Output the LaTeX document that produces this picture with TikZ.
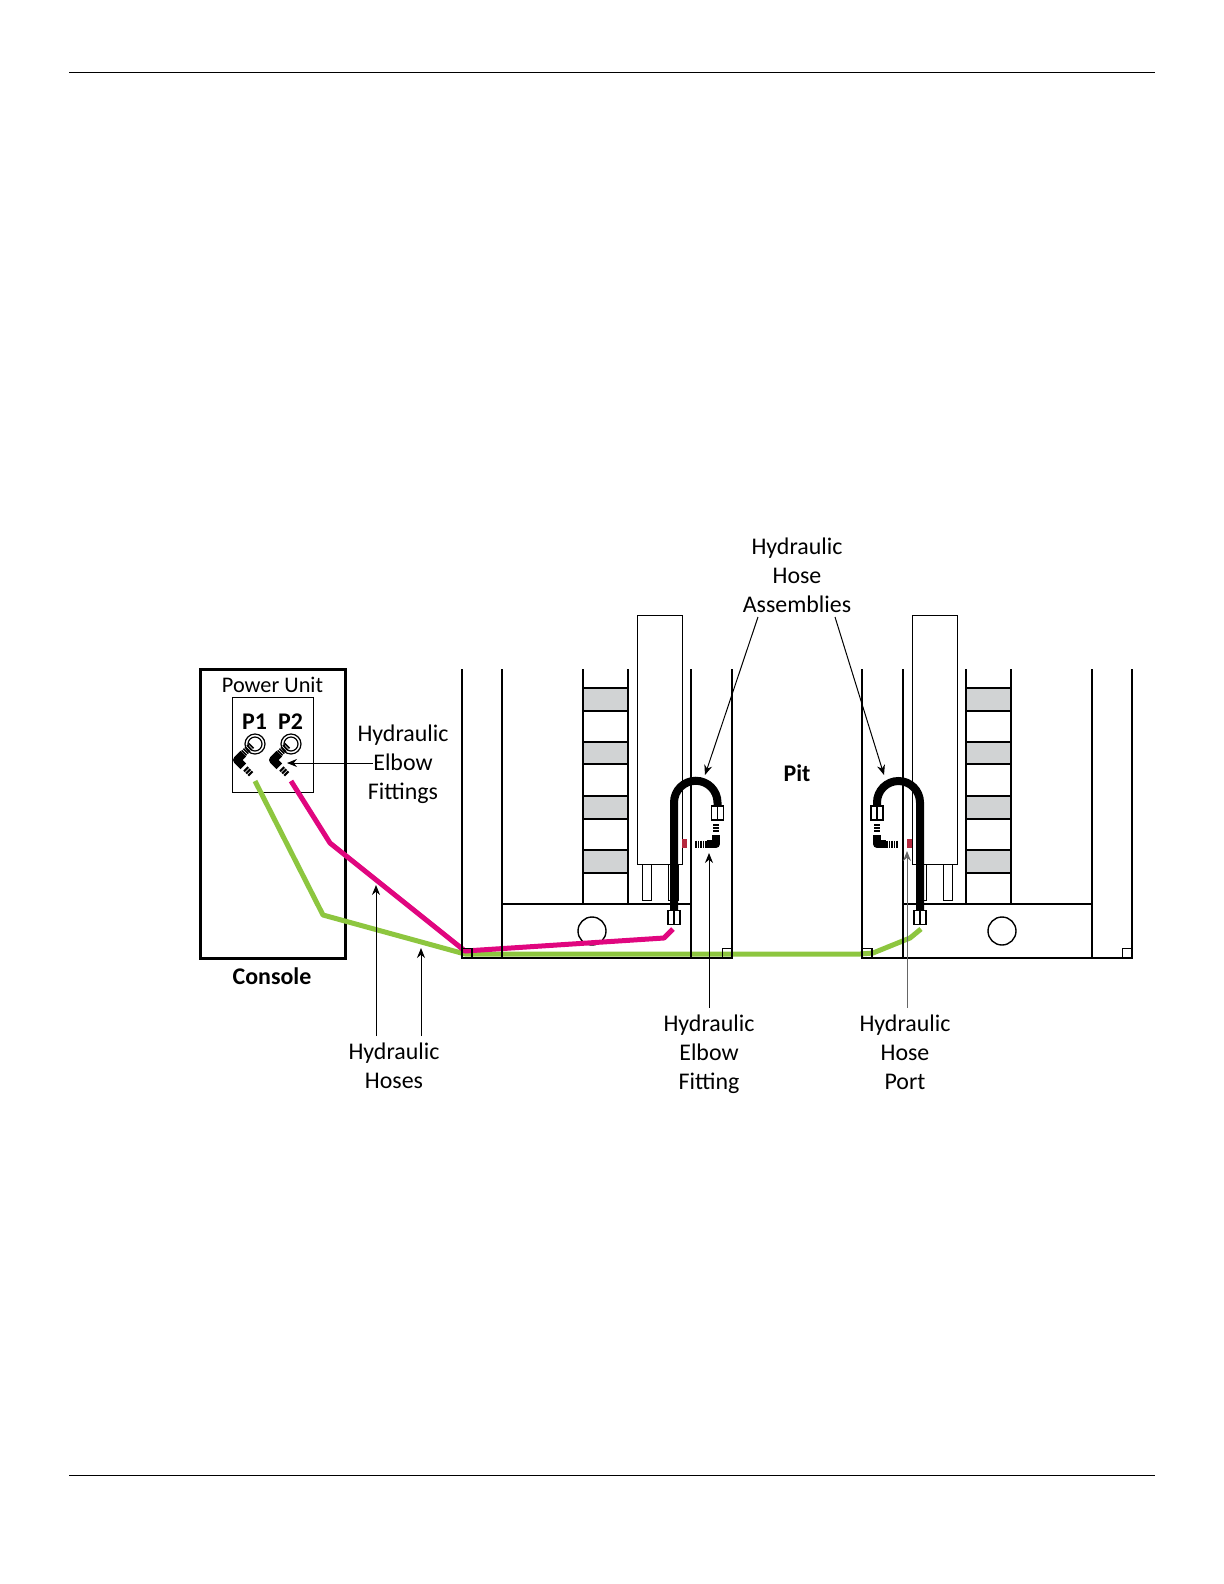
\documentclass[tikz,border=0pt]{standalone}
\usepackage{fontspec}
\setmainfont{Carlito}
\usepackage{xcolor}
\usetikzlibrary{arrows.meta}
\definecolor{mGreen}{HTML}{8DC63F}
\definecolor{mPink}{HTML}{E0067F}
\definecolor{mGrey}{HTML}{D1D3D4}
\definecolor{mRed}{HTML}{B5293F}
\tikzset{
  wall/.style={line width=1bp},
  thinbox/.style={draw, line width=0.5bp, fill=white},
  hosegreen/.style={line width=2.5bp, mGreen, line join=round},
  hosepink/.style={line width=2.5bp, mPink, line join=round},
  hosepipe/.style={line width=4bp, black},
  hoseend/.style={draw, fill=white, line width=0.6bp, minimum width=6bp, minimum height=7bp, inner sep=0pt},
  cornerbox/.style={draw, line width=0.7bp, minimum size=4.8bp, inner sep=0pt},
  portbox/.style={fill=mRed, minimum width=2.5bp, minimum height=4.5bp, inner sep=0pt},
  lbl/.style={align=center, font=\fontsize{12}{14.5}\selectfont},
  lblb/.style={font=\fontsize{12}{14.5}\selectfont\bfseries},
  callout/.style={-{Stealth[length=5bp,width=4bp]}, line width=0.5bp},
  elbowfit/.pic={
    \draw[line width=4bp, line join=round] (0,-9) -- (0,0) -- (9,0);
    \foreach \tx in {10,12.5,...,21}
      \draw[line width=0.8bp] (\tx,-3.5) -- (\tx,3.5);
    \foreach \ty in {-13,-16,-19}
      \draw[line width=1bp] (-3,\ty) -- (3,\ty);
  }
}
\begin{document}
\begin{tikzpicture}[x=0.5bp, y=-0.5bp]
  \useasboundingbox (0,0) rectangle (1224,1584);
  % page rules
  \coordinate (ruleAl) at (69,72);
  \coordinate (ruleAr) at (1155,72);
  \coordinate (ruleBl) at (69,1475);
  \coordinate (ruleBr) at (1155,1475);
  \draw[line width=0.5bp] (ruleAl) -- (ruleAr);
  \draw[line width=0.5bp] (ruleBl) -- (ruleBr);

  % grey ladder steps
  \foreach \ytop/\ybot in {688/711, 742/764, 796/819, 850/873} {
    \fill[mGrey] (583,\ytop) rectangle (628,\ybot);
    \fill[mGrey] (966,\ytop) rectangle (1011,\ybot);
    \draw[wall] (583,\ytop) -- (628,\ytop) (583,\ybot) -- (628,\ybot);
    \draw[wall] (966,\ytop) -- (1011,\ytop) (966,\ybot) -- (1011,\ybot);
  }

  % cylinders and rods
  \draw[thinbox] (642,864) rectangle (651,900);
  \draw[thinbox] (668,864) rectangle (678,900);
  \draw[thinbox] (637,615) rectangle (682,864);
  \draw[thinbox] (916,864) rectangle (926,900);
  \draw[thinbox] (943,864) rectangle (952,900);
  \draw[thinbox] (912,615) rectangle (957,864);

  \node[draw, circle, line width=0.7bp, minimum size=14bp, inner sep=0pt] (wheelA) at (592,931) {};
  \node[draw, circle, line width=0.7bp, minimum size=14bp, inner sep=0pt] (wheelB) at (1002,931) {};
  \node[portbox] (portA) at (684.5,843.5) {};
  \node[portbox] (portB) at (909.5,843.5) {};

  % console
  \node[draw, line width=1.5bp, fill=white, minimum width=72.5bp, minimum height=144.5bp, inner sep=0pt] (console) at (272.5,813.5) {};
  \node[thinbox, minimum width=40.5bp, minimum height=47.5bp, inner sep=0pt] (unit) at (272.5,744.5) {};
  \node[lbl, font=\fontsize{11.2}{14}\selectfont] (powerlbl) at (272.5,685) {Power Unit};
  \node[lblb] (pone) at (254.5,722) {P1};
  \node[lblb] (ptwo) at (290.5,722) {P2};
  \foreach \rx/\nm in {255/ringA, 291/ringB} {
    \node[draw, circle, line width=0.6bp, minimum size=10bp, inner sep=0pt] (\nm) at (\rx,744) {};
    \node[draw, circle, line width=0.6bp, minimum size=7bp, inner sep=0pt] at (\rx,744) {};
  }
  \pic[rotate=45, yscale=-1] (elbowA) at (237,760) {elbowfit};
  \pic[rotate=45, yscale=-1] (elbowB) at (273,760) {elbowfit};

  % hoses
  \draw[hosegreen] (255,781) -- (323,915) -- (465,954) -- (860,954) -- (873,953) -- (910,938) -- (921,929);
  \draw[hosepink] (291,781) -- (330,843) -- (465,951) -- (664,938) -- (673,929);

  % left pit
  \draw[wall] (462,669) -- (462,958) -- (732,958) -- (732,669);
  \draw[wall] (502,669) -- (502,958);
  \draw[wall] (502,904) -- (691,904);
  \draw[wall] (583,669) -- (583,904);
  \draw[wall] (628,669) -- (628,904);
  \draw[wall] (691,669) -- (691,958);
  % right pit
  \draw[wall] (862,669) -- (862,958) -- (1132,958) -- (1132,669);
  \draw[wall] (903,669) -- (903,958);
  \draw[wall] (903,904) -- (1092,904);
  \draw[wall] (966,669) -- (966,904);
  \draw[wall] (1011,669) -- (1011,904);
  \draw[wall] (1092,669) -- (1092,958);
  \node[cornerbox] (cornerA) at (467,953.5) {};
  \node[cornerbox] (cornerB) at (727,953.5) {};
  \node[cornerbox] (cornerC) at (867,953.5) {};
  \node[cornerbox] (cornerD) at (1127.5,953.5) {};

  % hose assemblies
  \node[hoseend] (endA) at (717.5,813) {};
  \node[hoseend] (endB) at (674,917.5) {};
  \node[hoseend] (endC) at (877,813) {};
  \node[hoseend] (endD) at (920,917.5) {};
  \draw[hosepipe] (endB.north) -- (674,802.5) arc[start angle=180, end angle=360, radius=21.75] -- (endA.north);
  \draw[hosepipe] (endD.north) -- (920,802.5) arc[start angle=360, end angle=180, radius=21.5] -- (endC.north);
  \foreach \e in {endA, endB, endC, endD}
    \draw[line width=0.6bp] (\e.north) -- (\e.south);
  \pic[xscale=-1] (elbowC) at (716,844) {elbowfit};
  \pic (elbowD) at (877,844) {elbowfit};

  % callouts
  \node[lbl] (fitlbl) at (403,764) {Hydraulic\\Elbow\\Fittings};
  \node[lbl] (hoselbl) at (394,1066) {Hydraulic\\Hoses};
  \node[lbl] (asmlbl) at (797,575) {Hydraulic\\Hose\\Assemblies};
  \node[lbl] (elblbl) at (709,1054) {Hydraulic\\Elbow\\Fitting};
  \node[lbl] (portlbl) at (905,1052) {Hydraulic\\Hose\\Port};
  \node[lblb] (pitlbl) at (797,773) {Pit};
  \node[lblb] (conslbl) at (272,976) {Console};

  \coordinate (tailfit) at (373,763);
  \coordinate (tipfit) at (287,763);
  \coordinate (tiphoseA) at (376,885);
  \coordinate (tiphoseB) at (421,948);
  \coordinate (tailasmA) at (758,617);
  \coordinate (tipasmA) at (705,775);
  \coordinate (tailasmB) at (835,617);
  \coordinate (tipasmB) at (884,775);
  \coordinate (tipelb) at (709,853);
  \coordinate (tipport) at (907,851);
  \draw[callout] (tailfit) -- (tipfit);
  \draw[callout] (tiphoseA |- hoselbl.north) -- (tiphoseA);
  \draw[callout] (tiphoseB |- hoselbl.north) -- (tiphoseB);
  \draw[callout] (tailasmA) -- (tipasmA);
  \draw[callout] (tailasmB) -- (tipasmB);
  \draw[callout] (elblbl.north) -- (tipelb);
  \draw[callout, black!60] (tipport |- portlbl.north) -- (tipport);
\end{tikzpicture}
\end{document}
